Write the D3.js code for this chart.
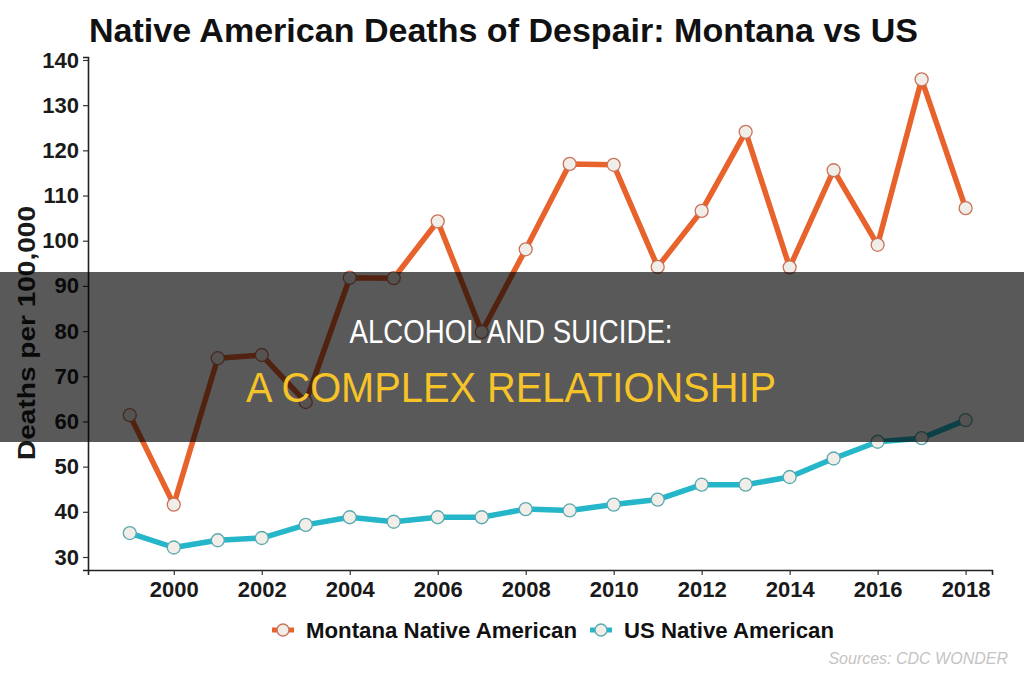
<!DOCTYPE html>
<html>
<head>
<meta charset="utf-8">
<script src="https://cdn.jsdelivr.net/npm/d3@7"></script>
<style>
  body { margin: 0; background: #fff; }
  svg { display: block; }
  .tick text { font-family: "Liberation Sans", Arial, sans-serif; font-weight: bold; }
</style>
</head>
<body>
<svg width="1024" height="683"></svg>
<script>
// data
var years = [1999, 2000, 2001, 2002, 2003, 2004, 2005, 2006, 2007, 2008,
             2009, 2010, 2011, 2012, 2013, 2014, 2015, 2016, 2017, 2018];
var montana = [61.4, 41.6, 74.0, 74.7, 64.3, 91.8, 91.7, 104.3, 79.8, 98.1,
               117.0, 116.8, 94.2, 106.6, 124.1, 94.1, 115.6, 99.1, 135.7, 107.2];
var usNative = [35.3, 32.1, 33.7, 34.2, 37.1, 38.8, 37.8, 38.8, 38.8, 40.6,
                40.3, 41.6, 42.7, 46.0, 46.0, 47.7, 51.8, 55.5, 56.3, 60.3];
var yTicks = [30, 40, 50, 60, 70, 80, 90, 100, 110, 120, 130, 140];
var xTicks = [2000, 2002, 2004, 2006, 2008, 2010, 2012, 2014, 2016, 2018];
var seriesNames = ["Montana Native American", "US Native American"];

var orange = "#e8622c", teal = "#26b6ca";

var svg = d3.select("svg");
var font = '"Liberation Sans", Arial, sans-serif';

var x = d3.scaleLinear().domain([1998.05, 2018.6]).range([88, 992]);
var y = d3.scaleLinear().domain([27.12, 140.66]).range([570, 57]);

// title
svg.append("text")
  .attr("x", 89).attr("y", 42)
  .attr("font-family", font).attr("font-weight", "bold")
  .attr("font-size", 33).attr("fill", "#111")
  .attr("textLength", 829).attr("lengthAdjust", "spacingAndGlyphs")
  .text("Native American Deaths of Despair: Montana vs US");

// axes
var gx = svg.append("g").attr("transform", "translate(0,570)")
  .call(d3.axisBottom(x).tickValues(xTicks).tickFormat(d3.format("d")).tickSize(5).tickPadding(6));
var gy = svg.append("g").attr("transform", "translate(88,0)")
  .call(d3.axisLeft(y).tickValues(yTicks).tickSize(5).tickPadding(4));

[gx, gy].forEach(function(g) {
  g.select(".domain").attr("stroke", "#222").attr("stroke-width", 1.6);
  g.selectAll(".tick line").attr("stroke", "#333").attr("stroke-width", 1.2);
  g.selectAll(".tick text").attr("fill", "#1a1a1a").attr("font-size", 22);
});

// y axis title
svg.append("text")
  .attr("transform", "translate(35,333) rotate(-90)")
  .attr("text-anchor", "middle")
  .attr("font-family", font).attr("font-weight", "bold")
  .attr("font-size", 23).attr("fill", "#1a1a1a")
  .attr("textLength", 254).attr("lengthAdjust", "spacingAndGlyphs")
  .text("Deaths per 100,000");

var line = d3.line()
  .x(function(d, i) { return x(years[i]); })
  .y(function(d) { return y(d); });

function drawSeries(vals, color, ptStroke) {
  svg.append("path")
    .datum(vals)
    .attr("fill", "none")
    .attr("stroke", color)
    .attr("stroke-width", 5.5)
    .attr("stroke-linejoin", "round")
    .attr("d", line);
  svg.selectAll(null)
    .data(vals)
    .enter().append("circle")
    .attr("cx", function(d, i) { return x(years[i]); })
    .attr("cy", function(d) { return y(d); })
    .attr("r", 6.5)
    .attr("fill", "#f1eeea")
    .attr("stroke", ptStroke)
    .attr("stroke-width", 1.3);
}
drawSeries(montana, orange, "#c9735a");
drawSeries(usNative, teal, "#5aa9ad");

// legend
var legend = [
  { name: seriesNames[0], color: orange, stroke: "#c9735a", x: 272, tx: 306 },
  { name: seriesNames[1], color: teal, stroke: "#5aa9ad", x: 590, tx: 624 }
];
legend.forEach(function(l) {
  svg.append("line")
    .attr("x1", l.x).attr("x2", l.x + 22)
    .attr("y1", 630).attr("y2", 630)
    .attr("stroke", l.color).attr("stroke-width", 5);
  svg.append("circle")
    .attr("cx", l.x + 11).attr("cy", 630).attr("r", 6)
    .attr("fill", "#f1eeea").attr("stroke", l.stroke).attr("stroke-width", 1.3);
  svg.append("text")
    .attr("x", l.tx).attr("y", 638)
    .attr("font-family", font).attr("font-weight", "bold")
    .attr("font-size", 22).attr("fill", "#111")
    .attr("textLength", l.tx === 306 ? 271 : 210).attr("lengthAdjust", "spacingAndGlyphs")
    .text(l.name);
});

// source
svg.append("text")
  .attr("x", 1008).attr("y", 664)
  .attr("text-anchor", "end")
  .attr("font-family", font).attr("font-style", "italic")
  .attr("font-size", 16).attr("fill", "#c4c4c4")
  .text("Sources: CDC WONDER");

// overlay band with headline
svg.append("rect")
  .attr("x", 0).attr("y", 272)
  .attr("width", 1024).attr("height", 170)
  .attr("fill", "#000").attr("fill-opacity", 0.65);

svg.append("text")
  .attr("x", 511).attr("y", 343)
  .attr("text-anchor", "middle")
  .attr("font-family", font)
  .attr("font-size", 34).attr("fill", "#fff")
  .attr("textLength", 323).attr("lengthAdjust", "spacingAndGlyphs")
  .text("ALCOHOL AND SUICIDE:");

svg.append("text")
  .attr("x", 511).attr("y", 402)
  .attr("text-anchor", "middle")
  .attr("font-family", font)
  .attr("font-size", 42).attr("fill", "#f6c428")
  .attr("textLength", 530).attr("lengthAdjust", "spacingAndGlyphs")
  .text("A COMPLEX RELATIONSHIP");
</script>
</body>
</html>
